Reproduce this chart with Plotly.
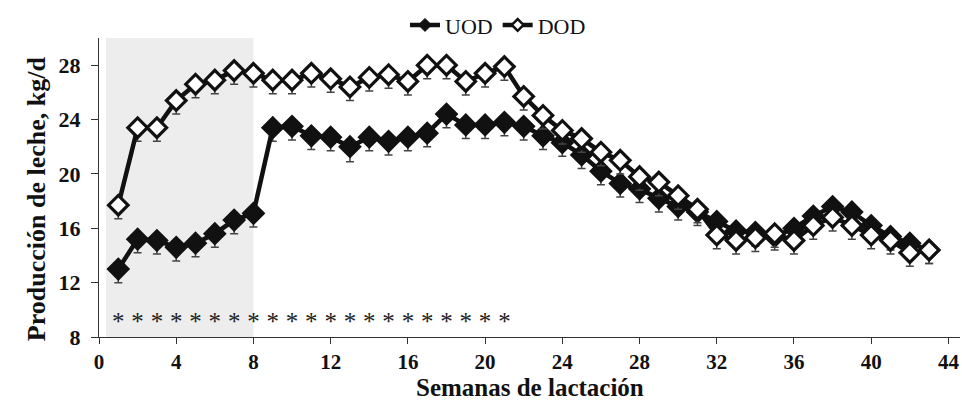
import plotly.graph_objects as go

weeks = list(range(1, 44))
uod = [13.0, 15.2, 15.1, 14.6, 14.9, 15.6, 16.6, 17.1, 23.4, 23.5,
       22.8, 22.7, 22.0, 22.7, 22.4, 22.7, 23.0, 24.4, 23.6, 23.6,
       23.8, 23.5, 22.8, 22.3, 21.4, 20.2, 19.3, 18.9, 18.2, 17.6,
       17.2, 16.5, 15.8, 15.7, 15.4, 16.0, 16.9, 17.6, 17.2, 16.2,
       15.4, 14.9, 14.4]
dod = [17.7, 23.4, 23.4, 25.4, 26.6, 26.9, 27.6, 27.4, 26.9, 26.9,
       27.4, 27.0, 26.4, 27.1, 27.3, 26.8, 28.0, 28.0, 26.8, 27.4,
       27.9, 25.7, 24.3, 23.2, 22.6, 21.6, 21.0, 19.8, 19.4, 18.4,
       17.4, 15.5, 15.1, 15.3, 15.6, 15.1, 16.2, 16.8, 16.2, 15.5,
       15.1, 14.2, 14.4]
uod_se = [1.0, 1.0, 1.0, 1.0, 1.0, 1.0, 1.0, 1.0, 1.0, 1.0,
          1.0, 1.0, 1.1, 1.0, 1.0, 1.0, 1.0, 1.0, 1.0, 1.0,
          1.0, 1.0, 1.0, 1.0, 1.0, 1.0, 1.0, 1.0, 1.0, 1.0,
          1.0, 1.0, 1.0, 1.0, 1.0, 1.0, 1.0, 1.0, 1.0, 1.0,
          1.0, 1.0, 1.0]
dod_se = [1.0, 1.0, 1.0, 1.0, 1.0, 1.0, 1.0, 1.0, 1.0, 1.0,
          1.0, 1.0, 1.0, 1.0, 1.0, 1.0, 1.0, 1.0, 1.0, 1.0,
          1.0, 1.0, 1.0, 1.0, 1.0, 1.0, 1.0, 1.0, 1.0, 1.0,
          1.0, 1.0, 1.0, 1.0, 1.0, 1.0, 1.0, 1.0, 1.0, 1.0,
          1.0, 1.0, 1.0]
zeros = [0] * len(weeks)
sig_weeks = list(range(1, 22))
sig_level = 8.95
shade_start, shade_end = 0.36, 8.0
x_ticks = list(range(0, 45, 4))
y_ticks = list(range(8, 29, 4))

SERIF = "Liberation Serif, Times New Roman, serif"

fig = go.Figure()

fig.add_shape(type="rect", xref="x", yref="paper", x0=shade_start, x1=shade_end,
              y0=0, y1=1, fillcolor="#ededed", line_width=0, layer="below")

fig.add_trace(go.Scatter(
    x=weeks, y=uod, mode="lines+markers", name="UOD", showlegend=False,
    line=dict(color="#111111", width=4.5),
    marker=dict(symbol="diamond", size=15, color="#111111",
                line=dict(color="#111111", width=3)),
    error_y=dict(type="data", symmetric=False, array=zeros, arrayminus=uod_se,
                 color="#444444", thickness=1.5, width=4),
))
fig.add_trace(go.Scatter(
    x=weeks, y=dod, mode="lines+markers", name="DOD", showlegend=False,
    line=dict(color="#111111", width=4.5),
    marker=dict(symbol="diamond", size=15, color="white",
                line=dict(color="#111111", width=3.2)),
    error_y=dict(type="data", symmetric=False, array=zeros, arrayminus=dod_se,
                 color="#444444", thickness=1.5, width=4),
))
# legend entries
fig.add_trace(go.Scatter(
    x=[None], y=[None], mode="lines+markers", name="UOD",
    line=dict(color="#111111", width=4.5),
    marker=dict(symbol="diamond", size=10, color="#111111",
                line=dict(color="#111111", width=1)),
))
fig.add_trace(go.Scatter(
    x=[None], y=[None], mode="lines+markers", name="DOD",
    line=dict(color="#111111", width=4.5),
    marker=dict(symbol="diamond", size=9, color="white",
                line=dict(color="#111111", width=2.5)),
))
fig.add_trace(go.Scatter(
    x=sig_weeks, y=[sig_level] * len(sig_weeks), mode="text",
    text=["*"] * len(sig_weeks), showlegend=False,
    textfont=dict(family=SERIF, size=25, color="#222222"),
    hoverinfo="skip",
))

fig.update_layout(
    width=962, height=403,
    margin=dict(l=99, r=2, t=38, b=66),
    plot_bgcolor="white", paper_bgcolor="white",
    font=dict(family=SERIF, color="#111111"),
    showlegend=True,
    legend=dict(orientation="h", x=0.3554, xanchor="left", y=1.043, yanchor="middle",
                font=dict(family=SERIF, size=22, color="#111111"),
                bgcolor="rgba(0,0,0,0)", itemclick=False, tracegroupgap=0),
    xaxis=dict(range=[0, 44.6], tickvals=x_ticks, ticks="outside", ticklen=6,
               tickwidth=1, tickcolor="#333", showline=True, linecolor="#333",
               linewidth=1, showgrid=False, zeroline=False,
               tickfont=dict(family=SERIF, size=21, weight="bold", color="#111")),
    yaxis=dict(range=[8, 30], tickvals=y_ticks, ticks="outside", ticklen=7,
               tickwidth=1, tickcolor="#333", showline=True, linecolor="#333",
               linewidth=1, showgrid=False, zeroline=False, ticklabelstandoff=6,
               tickfont=dict(family=SERIF, size=22, weight="bold", color="#111")),
    annotations=[
        dict(text="<b>Semanas de lactación</b>", xref="paper", yref="paper",
             x=0.5, y=-0.2207, xanchor="center", yanchor="bottom", showarrow=False,
             font=dict(family=SERIF, size=25, color="#111")),
        dict(text="<b>Producción de leche, kg/d</b>", xref="paper", yref="paper",
             x=-0.073, y=0.4615, xanchor="center", yanchor="middle", showarrow=False,
             textangle=-90, font=dict(family=SERIF, size=26, color="#111")),
    ],
)

fig.write_html("out.html", config={"displayModeBar": False},
               post_script="document.body.style.margin='0';")
